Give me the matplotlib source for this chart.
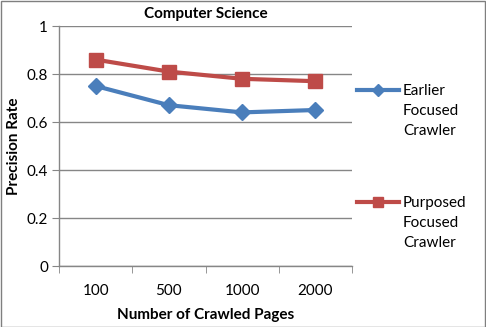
import matplotlib
matplotlib.use("Agg")
import matplotlib.pyplot as plt
from matplotlib.lines import Line2D
from matplotlib.patches import Rectangle

categories = ["100", "500", "1000", "2000"]
earlier = [0.75, 0.67, 0.64, 0.65]
purposed = [0.86, 0.81, 0.78, 0.77]
series_labels = ["Earlier\nFocused\nCrawler", "Purposed\nFocused\nCrawler"]
yticks = [0, 0.2, 0.4, 0.6, 0.8, 1]
ytick_labels = ["0", "0.2", "0.4", "0.6", "0.8", "1"]

plt.rcParams['font.family'] = ['Lato', 'DejaVu Sans']

W, H = 486, 327
fig = plt.figure(figsize=(W / 100, H / 100), dpi=100)
ax = fig.add_axes([59 / W, 1 - 266 / H, (352 - 59) / W, (266 - 26) / H])

blue = "#4a7ebb"
red = "#be4b48"
grid = "#868686"

x = list(range(len(categories)))
ax.plot(x, earlier, color=blue, lw=3, marker="D", ms=8.5, zorder=3, clip_on=False)
ax.plot(x, purposed, color=red, lw=3, marker="s", ms=10.5, zorder=3, clip_on=False)

ax.set_xlim(-0.5, len(categories) - 0.5)
ax.set_ylim(0, 1)
ax.set_yticks(yticks)
ax.set_yticklabels(ytick_labels)
ax.set_xticks(x)
ax.set_xticklabels(categories)
ax.tick_params(axis="x", length=0, pad=13, labelsize=11, colors="#000000")
ax.set_xticks([i - 0.5 for i in range(len(categories) + 1)], minor=True)
ax.tick_params(axis="x", which="minor", length=5, color=grid, direction="out")
ax.tick_params(axis="y", length=5, color=grid, labelsize=11, pad=3)
ax.yaxis.grid(True, color=grid, lw=1)
ax.set_axisbelow(True)
for s in ["top", "right"]:
    ax.spines[s].set_visible(False)
for s in ["left", "bottom"]:
    ax.spines[s].set_color(grid)
    ax.spines[s].set_linewidth(1)

ax.set_title("Computer Science", fontsize=11, fontweight="bold", pad=6)
ax.set_xlabel("Number of Crawled Pages", fontsize=11, fontweight="bold", labelpad=7)
ax.set_ylabel("Precision Rate", fontsize=11, fontweight="bold", labelpad=4)

# legend
entries = [(series_labels[0], blue, "D", 8, 90), (series_labels[1], red, "s", 10, 202)]
for label, col, mk, ms, yy in entries:
    fy = 1 - yy / H
    fig.add_artist(Line2D([357 / W, 399 / W], [fy, fy], color=col, lw=3,
                          transform=fig.transFigure))
    fig.add_artist(Line2D([378 / W], [fy], color=col, marker=mk, ms=ms * 0.75,
                          lw=0, transform=fig.transFigure))
    fig.text(403 / W, fy + 6 / H, label, fontsize=11, va="top", ha="left",
             linespacing=1.55)

fig.add_artist(Rectangle((0.5 / W, 0.5 / H), 1 - 1.5 / W, 1 - 1.5 / H, fill=False,
                         edgecolor="#7f7f7f", lw=1, transform=fig.transFigure))

fig.savefig("out.png", dpi=100)
